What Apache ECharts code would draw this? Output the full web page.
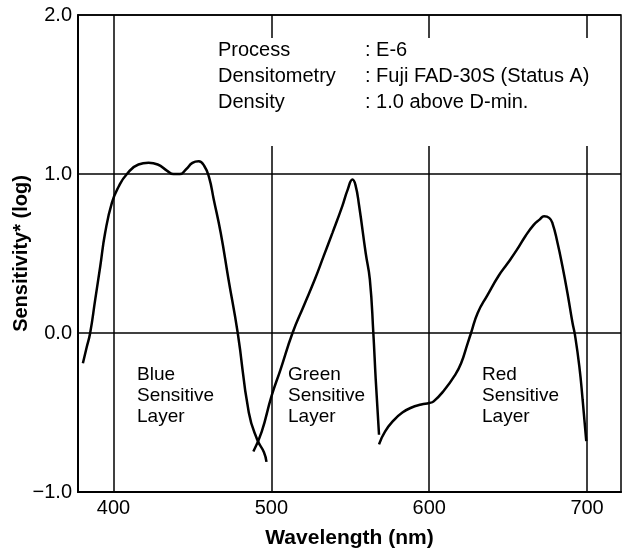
<!DOCTYPE html>
<html><head><meta charset="utf-8">
<script src="https://cdn.jsdelivr.net/npm/echarts@6/dist/echarts.min.js"></script>
<style>html,body{margin:0;padding:0;background:#fff}#c{width:632px;height:555px}</style>
</head><body><div id="c"></div>
<script>
// Spectral sensitivity curves: [wavelength nm, log sensitivity]
const blueLayer = [
  [380.6,-0.19],[383.0,-0.09],[385.2,0.0],[388.4,0.21],[391.6,0.42],[394.7,0.63],
  [399.0,0.82],[403.2,0.92],[408.5,1.0],[415.8,1.06],[422.2,1.07],[428,1.06],
  [434,1.02],[438,1.0],[442,1.0],[446,1.03],[450,1.07],[454,1.08],[457.5,1.05],
  [460.5,0.98],[463.5,0.84],[467.9,0.63],[472.8,0.34],[478.7,0.0],[485.7,-0.5],
  [491,-0.67],[495.3,-0.75],[496.9,-0.81]
];
const greenLayer = [
  [488.6,-0.745],[493.9,-0.62],[500,-0.40],[505.8,-0.23],[513.4,0.0],[520.5,0.17],
  [527.5,0.336],[533,0.48],[538.7,0.63],[545,0.80],[548.3,0.90],[551.4,0.965],
  [553.3,0.93],[555.6,0.80],[559.8,0.50],[562.4,0.336],[564.6,0.0],[566.1,-0.29],
  [568.2,-0.64]
];
const redLayer = [
  [568.2,-0.70],[572,-0.62],[577.8,-0.546],[583,-0.50],[588.5,-0.47],[595,-0.45],
  [600,-0.44],[602.8,-0.43],[609.7,-0.357],[616,-0.27],[620.2,-0.19],[624.4,-0.063],
  [626.5,0.0],[630.7,0.126],[637,0.24],[644,0.36],[649.8,0.44],[655.6,0.524],
  [661,0.61],[666.2,0.68],[669.9,0.713],[672.8,0.734],[676,0.724],[678.1,0.69],
  [681.3,0.566],[684.4,0.42],[687.6,0.25],[690.8,0.063],[692.3,-0.01],[695.1,-0.21],
  [697.2,-0.42],[699.5,-0.68]
];
const xTicks = [400,500,600,700];
const yTicks = [-1,0,1,2];
const noteLabels = ['Process','Densitometry','Density'];
const noteValues = [': E-6',': Fuji FAD-30S (Status A)',': 1.0 above D-min.'];
const layerNames = ['Blue\nSensitive\nLayer','Green\nSensitive\nLayer','Red\nSensitive\nLayer'];

const FONT = "'Liberation Sans', Arial, Helvetica, sans-serif";
const chart = echarts.init(document.getElementById('c'), null, {renderer:'canvas'});

const curveStyle = {color:'#000', width:2.5};
const layerX = [137, 288, 482];

const option = {
  backgroundColor:'#fff',
  animation:false,
  grid:{left:78, top:15, right:11, bottom:63, containLabel:false, outerBoundsMode:'none',
    show:true, borderColor:'#000', borderWidth:1.5},
  xAxis:{
    type:'value', min:377.5, max:721.5,
    name:'Wavelength (nm)', nameLocation:'middle', nameGap:36, nameMoveOverlap:false,
    nameTextStyle:{fontFamily:FONT, fontWeight:'bold', fontSize:21, color:'#000'},
    axisLine:{show:true, onZero:false, lineStyle:{color:'#000', width:2}},
    axisTick:{show:false},
    splitLine:{show:false},
    axisLabel:{customValues:xTicks, fontFamily:FONT, fontSize:20, color:'#000', margin:6}
  },
  yAxis:{
    type:'value', min:yTicks[0], max:yTicks[yTicks.length-1], interval:1,
    name:'Sensitivity* (log)', nameLocation:'middle', nameGap:47, nameMoveOverlap:false,
    nameTextStyle:{fontFamily:FONT, fontWeight:'bold', fontSize:20, color:'#000'},
    axisLine:{show:true, onZero:false, lineStyle:{color:'#000', width:2}},
    axisTick:{show:false},
    splitLine:{show:true, lineStyle:{color:'#000', width:1.5}},
    axisLabel:{fontFamily:FONT, fontSize:20, color:'#000', margin:6,
      formatter:v => (v < 0 ? '\u2212' + Math.abs(v).toFixed(1) : v.toFixed(1))}
  },
  series:[
    {type:'line', name:'grid', data:[], silent:true,
     markLine:{silent:true, symbol:['none','none'], label:{show:false},
       lineStyle:{color:'#000', width:1.5, type:'solid'},
       data:xTicks.map(v => ({xAxis:v}))}},
    {type:'line', name:'Blue', data:blueLayer, smooth:0.5, symbol:'none', lineStyle:curveStyle, z:3},
    {type:'line', name:'Green', data:greenLayer, smooth:0.5, symbol:'none', lineStyle:curveStyle, z:3},
    {type:'line', name:'Red', data:redLayer, smooth:0.5, symbol:'none', lineStyle:curveStyle, z:3}
  ],
  graphic:[
    {type:'rect', z:10, shape:{x:200, y:38, width:416, height:108}, style:{fill:'#fff'}},
    ...noteLabels.map((t,i) => ({type:'text', z:11, left:218, top:40 + i*26,
      style:{text:t, font:'20px ' + FONT, fill:'#000'}})),
    ...noteValues.map((t,i) => ({type:'text', z:11, left:365, top:40 + i*26,
      style:{text:t, font:'20px ' + FONT, fill:'#000'}})),
    ...layerNames.map((t,i) => ({type:'text', z:11, left:layerX[i], top:364,
      style:{text:t, font:'19px ' + FONT, fill:'#000', lineHeight:21}}))
  ]
};
chart.setOption(option);
</script>
</body></html>
